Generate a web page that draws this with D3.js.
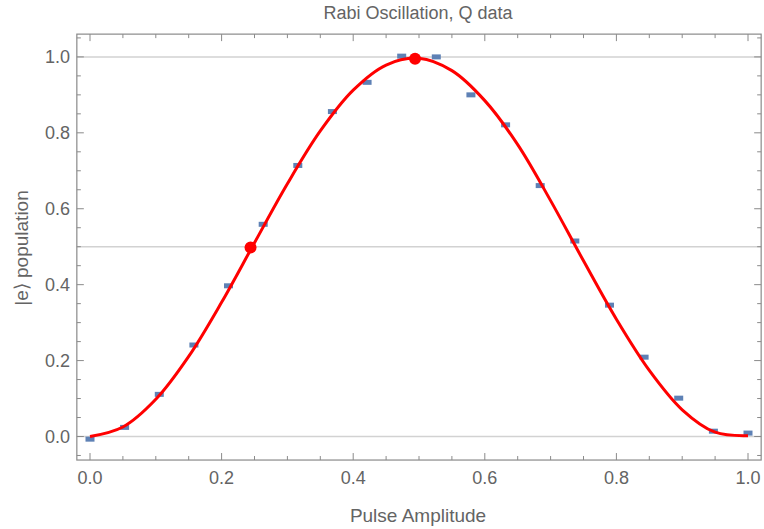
<!DOCTYPE html>
<html>
<head>
<meta charset="utf-8">
<script src="https://cdn.jsdelivr.net/npm/d3@7"></script>
<style>
  body { margin: 0; background: #fff; }
  text { font-family: "Liberation Sans", Arial, sans-serif; }
</style>
</head>
<body>
<div id="app"></div>
<script>
// measured populations, 20 pulse amplitudes
let amps = [0, 0.0526, 0.1053, 0.1579, 0.2105, 0.2632, 0.3158, 0.3684, 0.4211, 0.4737,
            0.5263, 0.5789, 0.6316, 0.6842, 0.7368, 0.7895, 0.8421, 0.8947, 0.9474, 1.0];
let pops = [-0.007, 0.024, 0.111, 0.241, 0.397, 0.559, 0.714, 0.856, 0.933, 1.002,
            1.0, 0.900, 0.821, 0.661, 0.515, 0.346, 0.209, 0.101, 0.014, 0.009];

// fitted curve
let fitX = [0, 0.05, 0.1, 0.15, 0.2, 0.25, 0.3, 0.35, 0.4, 0.45, 0.5,
            0.55, 0.6, 0.65, 0.7, 0.75, 0.8, 0.85, 0.9, 0.95, 1.0];
let fitY = [0, 0.0251, 0.098, 0.211, 0.3535, 0.5104, 0.6659, 0.8049, 0.9124, 0.9786, 0.9964,
            0.9638, 0.8848, 0.769, 0.6214, 0.4628, 0.3089, 0.1741, 0.0704, 0.0113, 0.0023];

// marked points on the fit (half and full inversion)
let markX = [0.244, 0.494];
let markY = [0.498, 0.995];

let xTicks = [0, 0.2, 0.4, 0.6, 0.8, 1.0];
let yTicks = [0, 0.2, 0.4, 0.6, 0.8, 1.0];
let gridY = [0, 0.5, 1.0];

let width = 764;
let height = 529;

let x = d3.scaleLinear().domain([0, 1]).range([90, 748]);
let y = d3.scaleLinear().domain([0, 1]).range([436.5, 56.9]);

let fLeft = x(-0.02), fRight = x(1.02);
let fTop = y(1.06), fBottom = y(-0.062);

let textColor = '#646464';
let frameColor = '#8a8a8a';

let svg = d3.select('#app').append('svg')
    .attr('width', width)
    .attr('height', height)
    .style('background', '#fff');

// grid
svg.selectAll('line.grid')
  .data(gridY)
  .enter()
  .append('line')
    .attr('class', 'grid')
    .attr('x1', fLeft)
    .attr('x2', fRight)
    .attr('y1', d => y(d))
    .attr('y2', d => y(d))
    .style('stroke', '#d2d2d2')
    .style('stroke-width', 1.5);

// frame
svg.append('rect')
    .attr('x', fLeft)
    .attr('y', fTop)
    .attr('width', fRight - fLeft)
    .attr('height', fBottom - fTop)
    .style('fill', 'none')
    .style('stroke', frameColor)
    .style('stroke-width', 1.2);

let minor = d3.range(0, 21).map(i => i * 0.05);
let isMajor = d => Math.abs(d * 5 - Math.round(d * 5)) < 1e-6;

// x ticks, bottom and top
let ticks = svg.append('g');
minor.forEach(function(d) {
  let len = isMajor(d) ? 7 : 4;
  ticks.append('line').attr('x1', x(d)).attr('x2', x(d))
    .attr('y1', fBottom).attr('y2', fBottom - len)
    .style('stroke', frameColor);
  ticks.append('line').attr('x1', x(d)).attr('x2', x(d))
    .attr('y1', fTop).attr('y2', fTop + len)
    .style('stroke', frameColor);
});
// y ticks, left and right
let yMinor = d3.range(-1, 22).map(i => i * 0.05);
yMinor.forEach(function(d) {
  let len = isMajor(d) ? 7 : 4;
  ticks.append('line').attr('x1', fLeft).attr('x2', fLeft + len)
    .attr('y1', y(d)).attr('y2', y(d))
    .style('stroke', frameColor);
  ticks.append('line').attr('x1', fRight).attr('x2', fRight - len)
    .attr('y1', y(d)).attr('y2', y(d))
    .style('stroke', frameColor);
});

svg.selectAll('text.xt')
  .data(xTicks)
  .enter()
  .append('text')
    .attr('x', d => x(d))
    .attr('y', 484)
    .attr('text-anchor', 'middle')
    .style('font-size', '18px')
    .style('fill', textColor)
    .text(d => d.toFixed(1));

svg.selectAll('text.yt')
  .data(yTicks)
  .enter()
  .append('text')
    .attr('x', 70)
    .attr('y', d => y(d) + 6.5)
    .attr('text-anchor', 'end')
    .style('font-size', '18px')
    .style('fill', textColor)
    .text(d => d.toFixed(1));

// titles
svg.append('text')
    .attr('x', 418).attr('y', 19)
    .attr('text-anchor', 'middle')
    .style('font-size', '18px')
    .style('fill', textColor)
    .text('Rabi Oscillation, Q data');

svg.append('text')
    .attr('x', 418).attr('y', 522)
    .attr('text-anchor', 'middle')
    .style('font-size', '19px')
    .style('fill', textColor)
    .text('Pulse Amplitude');

svg.append('text')
    .attr('transform', 'translate(28,' + 248 + ') rotate(-90)')
    .attr('text-anchor', 'middle')
    .style('font-size', '19px')
    .style('fill', textColor)
    .text('|e\u27E9 population');

// data points
svg.selectAll('rect.pt')
  .data(amps)
  .enter()
  .append('rect')
    .attr('class', 'pt')
    .attr('x', d => x(d) - 4.5)
    .attr('y', (d, i) => y(pops[i]) - 2.5)
    .attr('width', 9)
    .attr('height', 5)
    .style('fill', '#5e81b5');

// fit curve
let line = d3.line()
  .x(d => x(d))
  .y((d, i) => y(fitY[i]))
  .curve(d3.curveCatmullRom.alpha(0.5));

svg.append('path')
    .datum(fitX)
    .attr('d', line)
    .style('fill', 'none')
    .style('stroke', '#ff0000')
    .style('stroke-width', 3);

svg.selectAll('circle.mark')
  .data(markX)
  .enter()
  .append('circle')
    .attr('cx', d => x(d))
    .attr('cy', (d, i) => y(markY[i]))
    .attr('r', 6)
    .style('fill', '#ff0000');
</script>
</body>
</html>
